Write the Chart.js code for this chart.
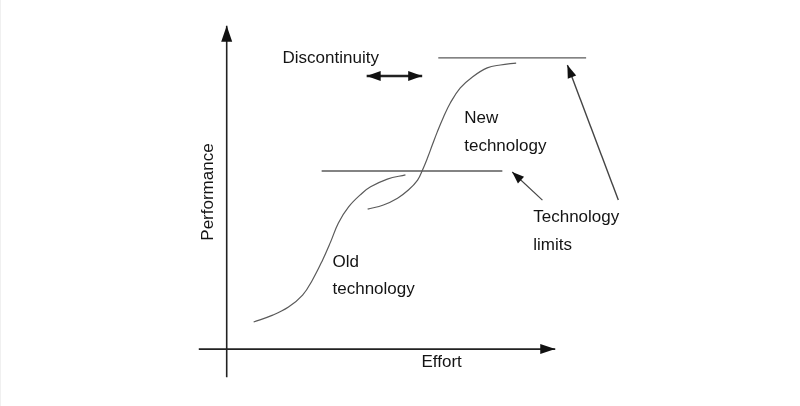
<!DOCTYPE html>
<html>
<head>
<meta charset="utf-8">
<script src="https://cdn.jsdelivr.net/npm/chart.js@4.4.1/dist/chart.umd.min.js"></script>
<style>
  html, body { margin: 0; padding: 0; background: #ffffff; }
  #wrap { width: 800px; height: 406px; position: relative; border-left: 1px solid #f0f0f0; box-sizing: border-box; }
</style>
</head>
<body>
<div id="wrap"><canvas id="myChart"></canvas></div>
<script>
// effort / performance in arbitrary units, origin at the axes crossing
const oldEffort = [8.2, 14.0, 18.8, 23.1, 26.1, 29.2, 31.6, 34.0, 37.1, 41.3, 43.8, 48.9, 54.4]
const oldPerf   = [8.4, 10.5, 13.0, 16.7, 21.4, 27.6, 33.1, 39.0, 44.0, 48.3, 50.2, 52.6, 53.9]

const newEffort = [42.9, 47.7, 52.0, 55.3, 58.1, 59.6, 61.1, 62.6, 64.1, 66.0, 68.1, 71.1, 74.8, 79.3, 83.3, 88.1]
const newPerf   = [43.3, 44.6, 46.7, 49.2, 52.3, 55.4, 59.1, 63.2, 67.2, 71.8, 76.2, 80.8, 84.2, 87.0, 87.9, 88.5]

const oldLimitEffort = [28.9, 83.9]
const oldLimitPerf = 55.1
const newLimitEffort = [64.4, 109.4]
const newLimitPerf = 90.1

const gapEffort = [42.6, 59.5]
const gapPerf = 84.5

const pointerOld = [[96.1, 46.1], [86.9, 54.8]]
const pointerNew = [[119.2, 46.1], [103.7, 87.9]]

const xAxisSpan = [-8.5, 100]
const yAxisSpan = [-8.7, 100]

const labelTexts = ['Discontinuity', 'New', 'technology', 'Old', 'technology', 'Technology', 'limits', 'Effort']
const labelEffort = [17.0, 72.3, 72.3, 32.2, 32.2, 93.3, 93.3, 59.3]
const labelPerf = [90.1, 71.5, 62.8, 26.9, 18.6, 40.9, 32.2, -4.0]
const yTitle = 'Performance'
const yTitleAt = [-5.5, 48.6]

function zip(xs, ys) {
    let pts = []
    for (let i = 0; i < xs.length; i++) {
        pts.push({ x: xs[i], y: ys[i] })
    }
    return pts
}

function flat(xs, y) {
    return xs.map(x => ({ x: x, y: y }))
}

function pairs(list) {
    return list.map(p => ({ x: p[0], y: p[1] }))
}

const curveStyle = { borderColor: '#5a5a5a', borderWidth: 1.2, tension: 0.4 }
const limitStyle = { borderColor: '#5a5a5a', borderWidth: 1.4 }

// arrow heads at the ends of datasets flagged arrowStart / arrowEnd
const arrowHeads = {
    id: 'arrowHeads',
    afterDatasetsDraw(chart) {
        const ctx = chart.ctx
        chart.data.datasets.forEach((ds, i) => {
            if (!ds.arrowEnd && !ds.arrowStart) return
            const pts = chart.getDatasetMeta(i).data
            const len = ds.headLength || 12
            const half = ds.headWidth || 4
            const draw = (tip, from) => {
                const a = Math.atan2(tip.y - from.y, tip.x - from.x)
                ctx.save()
                ctx.translate(tip.x, tip.y)
                ctx.rotate(a)
                ctx.beginPath()
                ctx.moveTo(0, 0)
                ctx.lineTo(-len, -half)
                ctx.lineTo(-len, half)
                ctx.closePath()
                ctx.fillStyle = '#111'
                ctx.fill()
                ctx.restore()
            }
            if (ds.arrowEnd) draw(pts[pts.length - 1], pts[pts.length - 2])
            if (ds.arrowStart) draw(pts[0], pts[1])
        })
    }
}

const textLabels = {
    id: 'textLabels',
    afterDraw(chart) {
        const ctx = chart.ctx
        const xs = chart.scales.x
        const ys = chart.scales.y
        ctx.save()
        ctx.fillStyle = '#141414'
        ctx.font = '17px "Liberation Sans", Arial, sans-serif'
        ctx.textBaseline = 'middle'
        ctx.textAlign = 'left'
        for (let i = 0; i < labelTexts.length; i++) {
            ctx.fillText(labelTexts[i], xs.getPixelForValue(labelEffort[i]), ys.getPixelForValue(labelPerf[i]))
        }
        ctx.translate(xs.getPixelForValue(yTitleAt[0]), ys.getPixelForValue(yTitleAt[1]))
        ctx.rotate(-Math.PI / 2)
        ctx.textAlign = 'center'
        ctx.fillText(yTitle, 0, 0)
        ctx.restore()
    }
}

const chart = document.getElementById('myChart')

new Chart(chart, {
    type: 'scatter',
    data: {
        datasets: [
            { data: flat(xAxisSpan, 0), borderColor: '#222', borderWidth: 1.6, arrowEnd: true, headLength: 15, headWidth: 5 },
            { data: yAxisSpan.map(y => ({ x: 0, y: y })), borderColor: '#222', borderWidth: 1.6, arrowEnd: true, headLength: 16, headWidth: 5.5 },
            { data: zip(oldEffort, oldPerf), ...curveStyle },
            { data: zip(newEffort, newPerf), ...curveStyle },
            { data: flat(oldLimitEffort, oldLimitPerf), ...limitStyle },
            { data: flat(newLimitEffort, newLimitPerf), ...limitStyle },
            { data: flat(gapEffort, gapPerf), borderColor: '#222', borderWidth: 2.4, arrowStart: true, arrowEnd: true, headLength: 14, headWidth: 5 },
            { data: pairs(pointerOld), borderColor: '#444', borderWidth: 1.2, arrowEnd: true, headLength: 12, headWidth: 4.5 },
            { data: pairs(pointerNew), borderColor: '#444', borderWidth: 1.4, arrowEnd: true, headLength: 13, headWidth: 4.5 }
        ]
    },
    options: {
        responsive: true,
        maintainAspectRatio: false,
        animation: false,
        showLine: true,
        layout: { padding: 0 },
        elements: { point: { radius: 0, hoverRadius: 0 } },
        plugins: {
            legend: { display: false },
            tooltip: { enabled: false }
        },
        scales: {
            x: { type: 'linear', min: -68.7, max: 174.5, display: false },
            y: { type: 'linear', min: -17.6, max: 108.0, display: false }
        }
    },
    plugins: [arrowHeads, textLabels]
})
</script>
</body>
</html>
